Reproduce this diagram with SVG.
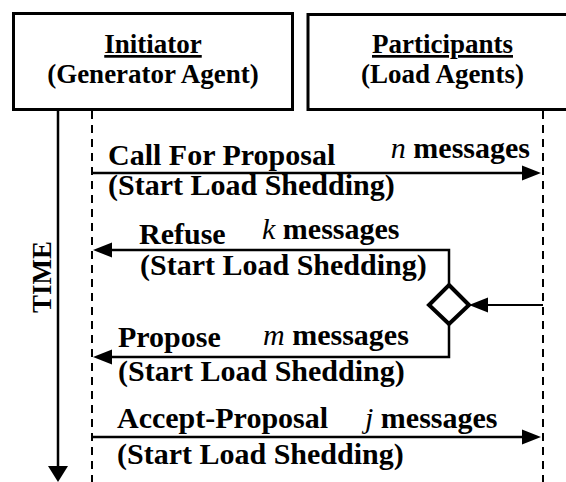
<svg xmlns="http://www.w3.org/2000/svg" width="566" height="482" viewBox="0 0 566 482">
<style>
.box{fill:#fff;stroke:#000;stroke-width:3}
.hd{font-family:"Liberation Serif","Times New Roman",serif;font-weight:bold;font-size:27px;fill:#000}
.msg{font-family:"Liberation Serif","Times New Roman",serif;font-weight:bold;font-size:30px;fill:#000}
.it{font-style:italic;font-weight:normal}
.life{stroke:#000;stroke-width:2;stroke-dasharray:8 6;fill:none}
.ln{stroke:#000;stroke-width:2.5;fill:none}
.ah{fill:#000}
</style>
<rect width="566" height="482" fill="#fff"/>
<g id="initiator">
<rect class="box" x="13.5" y="13.5" width="279" height="96"/>
<text class="hd" x="153" y="53" text-anchor="middle" text-decoration="underline">Initiator</text>
<text class="hd" x="153" y="83" text-anchor="middle">(Generator Agent)</text>
<line class="life" x1="92" y1="111" x2="92" y2="482"/>
</g>
<g id="participants">
<rect class="box" x="308" y="14.5" width="275" height="95"/>
<text class="hd" x="442.5" y="53" text-anchor="middle" text-decoration="underline">Participants</text>
<text class="hd" x="442.5" y="83" text-anchor="middle">(Load Agents)</text>
<line class="life" x1="543" y1="111" x2="543" y2="482"/>
</g>
<g id="time">
<line class="ln" x1="58" y1="109" x2="58" y2="468"/>
<polygon class="ah" points="48,466 68,466 58,482"/>
<text class="hd" transform="translate(51,277) rotate(-90)" text-anchor="middle">TIME</text>
</g>
<g id="decision">
<polygon points="449,285 469,305 449,324 429,305" fill="#fff" stroke="#000" stroke-width="4"/>
</g>
<g id="connectors">
<line class="ln" x1="92" y1="173" x2="523" y2="173"/>
<polygon class="ah" points="541,173 522,165.5 522,180.5"/>
<path class="ln" d="M449,285 V250 H111"/>
<polygon class="ah" points="93,250 112,242.5 112,257.5"/>
<path class="ln" d="M449,324 V357 H111"/>
<polygon class="ah" points="93,357 112,349.5 112,364.5"/>
<line class="ln" x1="92" y1="437" x2="523" y2="437"/>
<polygon class="ah" points="541,437 522,429.5 522,444.5"/>
<line stroke="#000" stroke-width="2" x1="543" y1="305" x2="487" y2="305"/>
<polygon class="ah" points="469,305 488,297.5 488,312.5"/>
</g>
<g id="labels">
<text class="msg" x="108" y="165">Call For Proposal</text>
<text class="msg" x="530" y="158" text-anchor="end"><tspan class="it">n</tspan> messages</text>
<text class="msg" x="108" y="195">(Start Load Shedding)</text>
<text class="msg" x="139" y="244">Refuse</text>
<text class="msg" x="262" y="239"><tspan class="it">k</tspan> messages</text>
<text class="msg" x="140" y="275">(Start Load Shedding)</text>
<text class="msg" x="118" y="347">Propose</text>
<text class="msg" x="263" y="345"><tspan class="it">m</tspan> messages</text>
<text class="msg" x="118" y="381">(Start Load Shedding)</text>
<text class="msg" x="117" y="428">Accept-Proposal</text>
<text class="msg" x="365" y="428"><tspan class="it">j</tspan> messages</text>
<text class="msg" x="117" y="464">(Start Load Shedding)</text>
</g>
</svg>
